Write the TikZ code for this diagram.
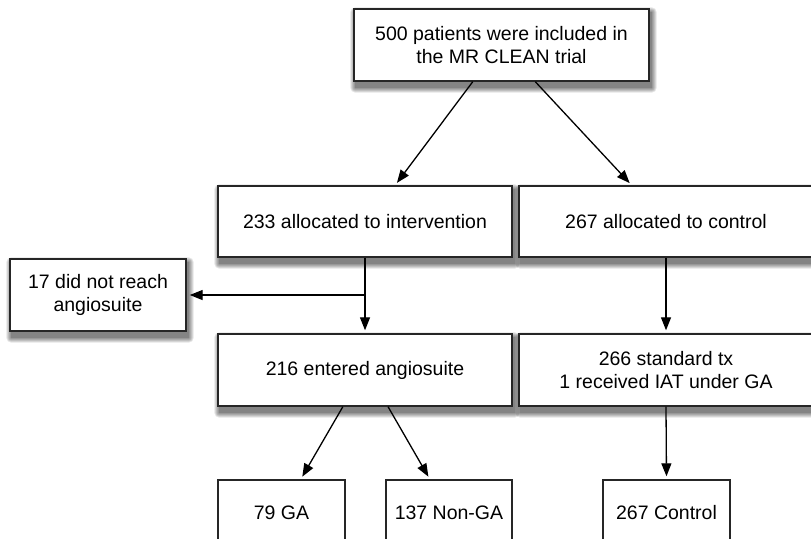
\documentclass[tikz,border=0pt]{standalone}
\usepackage{fontspec}
\setmainfont{Liberation Sans}
\usetikzlibrary{arrows.meta,calc,backgrounds}
\newcommand\boxshadow[1]{%
  \foreach \r in {0,...,5}{%
    \fill[black,opacity=0.1,rounded corners=\r pt]
      ([xshift={(2-\r)*1pt}, yshift={(-4+\r)*1pt}]#1.north west) rectangle
      ([xshift={(2+\r)*1pt}, yshift={(-6-\r)*1pt}]#1.south east);}}
\begin{document}
\begin{tikzpicture}[x=1pt,y=-1pt,
  box/.style={draw=black!85, line width=1.4pt, fill=white, align=center, inner sep=0pt,
    font=\fontsize{19.5}{23.4}\selectfont},
  arr/.style={line width=1.3pt, -{Triangle[length=13pt,width=10pt]}, shorten >=3pt}]
\useasboundingbox (0,0) rectangle (811,538);
\node[box, minimum width=295, minimum height=72] (top) at (501.5,45) {500 patients were included in\\the MR CLEAN trial};
\node[box, minimum width=294, minimum height=71] (int) at (365,221.5) {233 allocated to intervention};
\node[box, minimum width=294, minimum height=71] (ctrl) at (666,221.5) {267 allocated to control};
\node[box, minimum width=176, minimum height=72] (nr) at (98,295) {17 did not reach\\angiosuite};
\node[box, minimum width=294, minimum height=72] (ent) at (365,370) {216 entered angiosuite};
\node[box, minimum width=294, minimum height=72] (std) at (666,370) {266 standard tx\\1 received IAT under GA};
\node[box, minimum width=127, minimum height=66] (ga) at (281.5,513) {79 GA};
\node[box, minimum width=126, minimum height=66] (nga) at (449,513) {137 Non-GA};
\node[box, minimum width=127, minimum height=66] (c267) at (666.5,513) {267 Control};
\begin{scope}[on background layer]
\fill[white] (0,0) rectangle (811,538);
\boxshadow{top}\boxshadow{int}\boxshadow{ctrl}\boxshadow{nr}\boxshadow{ent}\boxshadow{std}
\end{scope}
\draw[arr] ($(top.south west)!0.403!(top.south east)$) -- ($(int.north west)!0.602!(int.north east)$);
\draw[arr] ($(top.south west)!0.614!(top.south east)$) -- ($(ctrl.north west)!0.384!(ctrl.north east)$);
\draw[arr] (int.south) -- (ent.north);
\draw[arr] (int.south |- nr.east) -- (nr.east);
\draw[arr] (ctrl.south) -- (std.north);
\draw[arr] ($(ent.south west)!0.425!(ent.south east)$) -- ($(ga.north west)!0.65!(ga.north east)$);
\draw[arr] ($(ent.south west)!0.578!(ent.south east)$) -- ($(nga.north west)!0.35!(nga.north east)$);
\draw[arr] (std.south) -- (c267.north);
\end{tikzpicture}
\end{document}
